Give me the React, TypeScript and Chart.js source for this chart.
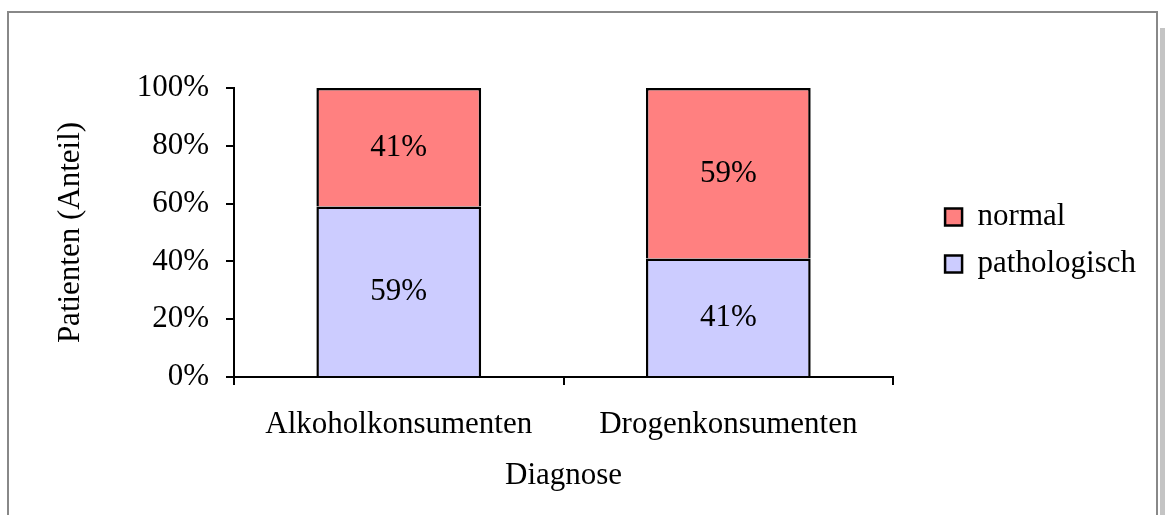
import React, { useEffect, useRef } from "react";
import { Chart, registerables } from "chart.js";

Chart.register(...registerables);

const categories = ["Alkoholkonsumenten", "Drogenkonsumenten"];
const pathologischValues = [59, 41];
const normalValues = [41, 59];
const seriesLabels = ["pathologisch", "normal"];
const yTicks = [0, 20, 40, 60, 80, 100];
const yTitle = "Patienten (Anteil)";
const xTitle = "Diagnose";

const FONT = "'Liberation Serif', 'Times New Roman', serif";

const valueLabelPlugin = {
  id: "valueLabels",
  afterDatasetsDraw(chart: any) {
    const ctx = chart.ctx;
    ctx.save();
    ctx.font = `31px ${FONT}`;
    ctx.fillStyle = "#000";
    ctx.textAlign = "center";
    ctx.textBaseline = "middle";
    chart.data.datasets.forEach((ds: any, di: number) => {
      const meta = chart.getDatasetMeta(di);
      meta.data.forEach((el: any, i: number) => {
        const v = ds.data[i];
        const y = (el.y + el.base) / 2 + 1;
        ctx.fillText(`${v}%`, el.x, y);
      });
    });
    ctx.restore();
  },
};

// leaves a gap between the plot area and the legend
const legendGapPlugin = {
  id: "legendGap",
  afterLayout(chart: any) {
    const l = chart.legend;
    if (!l) return;
    l.left += 36;
    l.right += 36;
  },
};

export default function App() {
  const ref = useRef<HTMLCanvasElement | null>(null);

  useEffect(() => {
    if (!ref.current) return;
    Chart.defaults.font.family = FONT;
    Chart.defaults.font.size = 31;
    Chart.defaults.color = "#000";
    const chart = new Chart(ref.current, {
      type: "bar",
      data: {
        labels: categories,
        datasets: [
          {
            label: seriesLabels[0],
            data: pathologischValues,
            backgroundColor: "#CCCCFF",
            borderColor: "#000",
            borderWidth: 2.5,
          },
          {
            label: seriesLabels[1],
            data: normalValues,
            backgroundColor: "#FF8080",
            borderColor: "#000",
            borderWidth: 2.5,
          },
        ],
      },
      options: {
        responsive: false,
        animation: false,
        datasets: { bar: { categoryPercentage: 1, barPercentage: 0.5 } },
        layout: { padding: { top: 75, left: 0, right: 45, bottom: 0 } },
        plugins: {
          tooltip: { enabled: false },
          legend: {
            position: "right",
            fullSize: false,
            reverse: true,
            title: { display: true, text: "", font: { size: 16, lineHeight: 1 }, padding: 0 },
            labels: {
              boxWidth: 17,
              boxHeight: 17,
              padding: 16,
              color: "#000",
              font: { size: 31, family: FONT },
            },
          },
        },
        scales: {
          x: {
            stacked: true,
            grid: {
              offset: true,
              drawOnChartArea: false,
              drawTicks: true,
              tickLength: 8,
              color: "#000",
              lineWidth: 2,
            },
            border: { display: true, color: "#000", width: 2 },
            ticks: { padding: 21, maxRotation: 0, autoSkip: false, color: "#000", font: { size: 31 } },
            title: { display: true, text: xTitle, color: "#000", font: { size: 31 }, padding: { top: 0, bottom: 21 } },
            afterFit: (s: any) => {
              s.height = 138;
            },
          },
          y: {
            stacked: true,
            min: 0,
            max: 100,
            afterBuildTicks: (s: any) => {
              s.ticks = yTicks.map((v) => ({ value: v }));
            },
            grid: {
              drawOnChartArea: false,
              drawTicks: true,
              tickLength: 8,
              color: "#000",
              lineWidth: 2,
            },
            border: { display: true, color: "#000", width: 2 },
            ticks: {
              padding: 17,
              color: "#000",
              font: { size: 31 },
              callback: (v: any) => `${v}%`,
            },
            title: { display: true, text: yTitle, color: "#000", font: { size: 31 }, padding: { top: 43, bottom: 0 } },
            afterFit: (s: any) => {
              s.width = 225;
            },
          },
        },
      } as any,
      plugins: [valueLabelPlugin, legendGapPlugin],
    });
    return () => chart.destroy();
  }, []);

  return (
    <div
      style={{
        position: "absolute",
        left: 0,
        top: 0,
        width: 1165,
        height: 515,
        overflow: "hidden",
        background: "#fff",
      }}
    >
      <div
        style={{
          position: "absolute",
          left: 1160,
          top: 28,
          width: 5,
          height: 600,
          background: "#c4c4c4",
        }}
      />
      <div
        style={{
          position: "absolute",
          left: 7,
          top: 11,
          width: 1147,
          height: 600,
          border: "2px solid #888",
          background: "#fff",
        }}
      />
      <canvas
        ref={ref}
        width={1146}
        height={502}
        style={{ position: "absolute", left: 9, top: 13, width: 1146, height: 502 }}
      />
    </div>
  );
}
